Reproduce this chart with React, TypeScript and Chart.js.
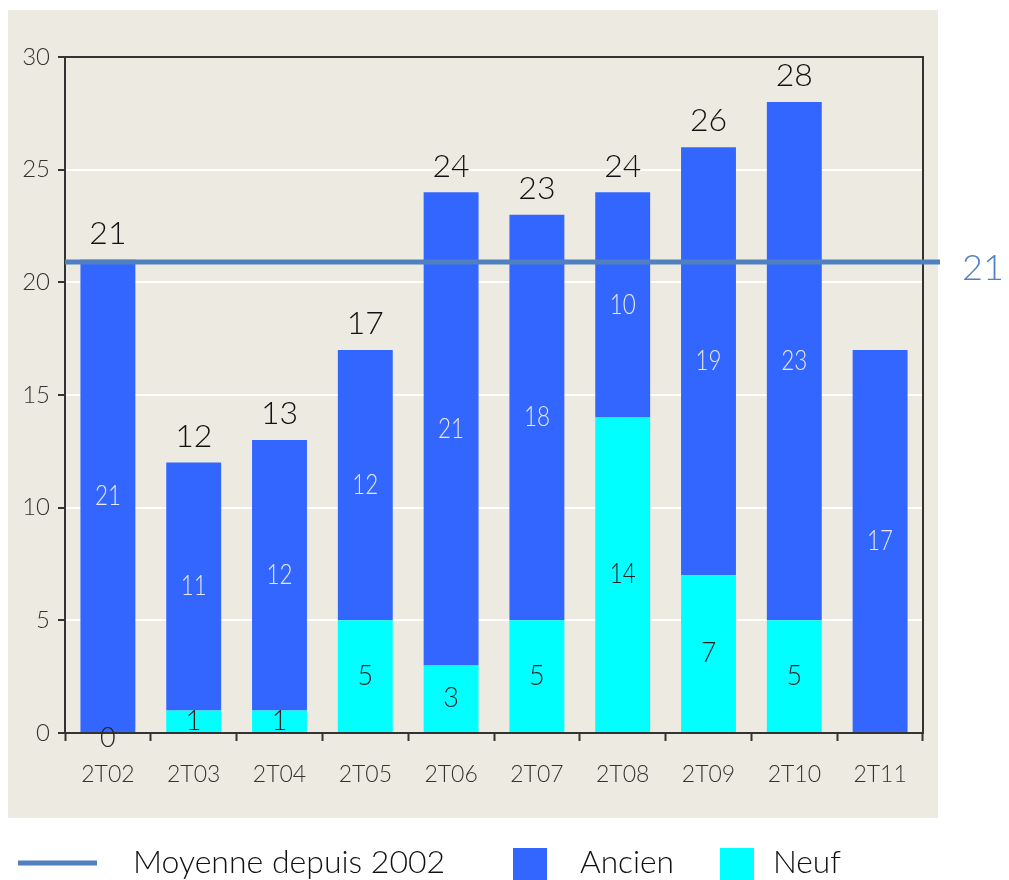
import React, { useEffect, useRef } from "react";
import { Chart, registerables } from "chart.js";

Chart.register(...registerables);

const categories = ["2T02", "2T03", "2T04", "2T05", "2T06", "2T07", "2T08", "2T09", "2T10", "2T11"];
const neuf: (number | null)[] = [0, 1, 1, 5, 3, 5, 14, 7, 5, null];
const ancien = [21, 11, 12, 12, 21, 18, 10, 19, 23, 17];
const totals: (number | null)[] = [21, 12, 13, 17, 24, 23, 24, 26, 28, null];
const moyenne = 20.9;
const moyenneLabel = "21";
const yTicks = [0, 5, 10, 15, 20, 25, 30];
const legendLabels = ["Moyenne depuis 2002", "Ancien", "Neuf"];

const BLUE = "#3366FF";
const CYAN = "#00FFFF";
const LINE = "#5080C0";
const BG = "#EDEBE1";
const THIN = "Lato, sans-serif";

const App = () => {
  const ref = useRef<HTMLCanvasElement>(null);
  useEffect(() => {
    const canvas = ref.current!;
    const bgPlugin = {
      id: "bgPanel",
      beforeDraw(chart: any) {
        const ctx = chart.ctx;
        ctx.save();
        ctx.fillStyle = "#ffffff";
        ctx.fillRect(0, 0, chart.width, chart.height);
        ctx.fillStyle = BG;
        ctx.fillRect(8, 10, 930, 808);
        ctx.restore();
      },
    };
    const overlay = {
      id: "overlay",
      afterDatasetsDraw(chart: any) {
        const ctx = chart.ctx;
        const { left, right, top, bottom } = chart.chartArea;
        const y = chart.scales.y;
        ctx.save();
        ctx.strokeStyle = "#333";
        ctx.lineWidth = 2;
        ctx.beginPath();
        ctx.moveTo(left, top);
        ctx.lineTo(right, top);
        ctx.lineTo(right, bottom);
        ctx.stroke();
        const yy = y.getPixelForValue(moyenne);
        ctx.strokeStyle = LINE;
        ctx.lineWidth = 5;
        ctx.beginPath();
        ctx.moveTo(left, yy);
        ctx.lineTo(940, yy);
        ctx.stroke();
        ctx.fillStyle = LINE;
        ctx.font = "300 36px " + THIN;
        ctx.textAlign = "left";
        ctx.textBaseline = "middle";
        ctx.fillText(moyenneLabel, 962, yy + 6);

        const m0 = chart.getDatasetMeta(0);
        const m1 = chart.getDatasetMeta(1);
        ctx.textAlign = "center";
        ctx.textBaseline = "middle";
        ctx.font = "300 27px " + THIN;
        m0.data.forEach((el: any, i: number) => {
          const v = neuf[i];
          if (v === null) return;
          ctx.fillStyle = "#222";
          const mid = (el.y + el.base) / 2;
          ctx.fillText(String(v), el.x, v === 0 ? mid + 5 : mid, 26);
        });
        m1.data.forEach((el: any, i: number) => {
          ctx.fillStyle = "#E8E8F4";
          ctx.fillText(String(ancien[i]), el.x, (el.y + el.base) / 2, 26);
        });
        ctx.font = "300 32px " + THIN;
        ctx.fillStyle = "#111";
        m1.data.forEach((el: any, i: number) => {
          const t = totals[i];
          if (t === null) return;
          ctx.fillText(String(t), el.x, el.y - 26);
        });

        ctx.strokeStyle = LINE;
        ctx.lineWidth = 5;
        ctx.beginPath();
        ctx.moveTo(18, 863);
        ctx.lineTo(97, 863);
        ctx.stroke();
        ctx.fillStyle = "#111";
        ctx.font = "300 32px " + THIN;
        ctx.textAlign = "left";
        ctx.fillText(legendLabels[0], 133, 863, 314);
        ctx.fillStyle = BLUE;
        ctx.fillRect(513, 848, 34, 32);
        ctx.fillStyle = "#111";
        ctx.fillText(legendLabels[1], 580, 863, 94);
        ctx.fillStyle = CYAN;
        ctx.fillRect(720, 848, 34, 32);
        ctx.fillStyle = "#111";
        ctx.fillText(legendLabels[2], 773, 863, 68);
        ctx.restore();
      },
    };
    const chart = new Chart(canvas, {
      type: "bar",
      data: {
        labels: categories,
        datasets: [
          { label: "Neuf", data: neuf, backgroundColor: CYAN, barPercentage: 0.64, categoryPercentage: 1 },
          { label: "Ancien", data: ancien, backgroundColor: BLUE, barPercentage: 0.64, categoryPercentage: 1 },
        ],
      },
      options: {
        animation: false,
        responsive: false,
        devicePixelRatio: 1,
        layout: { padding: { left: 0, right: 86, top: 57, bottom: 87 } },
        plugins: { legend: { display: false }, tooltip: { enabled: false } },
        scales: {
          x: {
            stacked: true,
            offset: true,
            grid: { offset: true, drawOnChartArea: false, tickColor: "#333", tickLength: 8, tickWidth: 2 },
            border: { color: "#333", width: 2 },
            ticks: { color: "#333", font: { family: THIN, size: 23, weight: "300" }, padding: 20, maxRotation: 0 },
            afterFit(s: any) { s.height = 60; },
          },
          y: {
            stacked: true,
            min: 0,
            max: 30,
            afterBuildTicks(s: any) { s.ticks = yTicks.map((v) => ({ value: v })); },
            grid: { color: "#ffffff", lineWidth: 2, tickColor: "#333", tickLength: 7, tickWidth: 2 },
            border: { color: "#333", width: 2 },
            ticks: { color: "#333", font: { family: THIN, size: 24, weight: "300" }, padding: 8 },
            afterFit(s: any) { s.width = 65; },
          },
        },
      },
      plugins: [bgPlugin, overlay],
    });
    return () => chart.destroy();
  }, []);
  return (
    <div style={{ position: "fixed", left: 0, top: 0, width: 1009, height: 880 }}>
      <canvas ref={ref} width={1009} height={880} style={{ display: "block" }} />
    </div>
  );
};

export default App;
